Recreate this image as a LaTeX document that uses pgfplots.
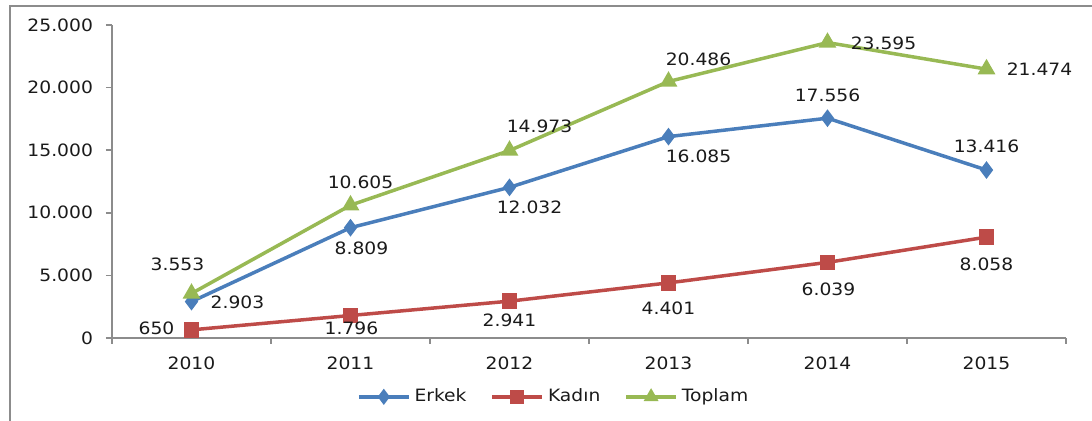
\documentclass[border=0pt]{standalone}
\usepackage{fontspec}
\setmainfont[FakeStretch=1.1]{DejaVu Sans}
\usepackage{pgfplots}
\pgfplotsset{compat=1.18}
\usepackage{pgfplotstable}
\definecolor{erk}{HTML}{4A7EBB}
\definecolor{kad}{HTML}{BE4B48}
\definecolor{top}{HTML}{98B954}
\definecolor{axg}{HTML}{8C8C8C}
\definecolor{txt}{HTML}{1A1A1A}

\pgfplotstableread{
x y dx dy
0 2903 23 -0.5
1 8809 5.5 -10.5
2 12032 10 -10
3 16085 15 -10
4 17556 0 11.5
5 13416 0 12
}\erkek
\pgfplotstableread{
x y dx dy
0 650 -17.5 1
1 1796 0.5 -6.5
2 2941 0 -9.5
3 4401 0 -12.5
4 6039 0.5 -13.5
5 8058 0 -13.5
}\kadin
\pgfplotstableread{
x y dx dy
0 3553 -7 14.5
1 10605 5 11.5
2 14973 15 12
3 20486 15 11
4 23595 28 -0.5
5 21474 26.5 0
}\toplam

\begin{document}
\begin{tikzpicture}[font=\fontsize{8.5}{10}\selectfont]
\useasboundingbox (-56pt,-41.5pt) rectangle (490pt,169pt);
\draw[axg, line width=0.8pt] (-51pt,-41.5pt) -- (-51pt,166pt) -- (490pt,166pt);
\begin{axis}[
  at={(0pt,0pt)}, anchor=south west,
  scale only axis, width=477pt, height=156.5pt,
  xmin=-0.5, xmax=5.5, ymin=0, ymax=25000,
  ytick={0,5000,...,25000},
  xtick={0,...,5}, xticklabels={2010,2011,2012,2013,2014,2015},
  minor xtick={-0.5,0.5,...,5.5},
  major x tick style={draw=none},
  axis x line*=bottom, axis y line*=left,
  axis line style={draw=axg, line width=0.8pt},
  tick style={axg, line width=0.8pt},
  tick align=outside, major tick length=3pt, minor tick length=3pt,
  scaled y ticks=false,
  /pgf/number format/.cd, fixed, precision=0, 1000 sep={.}, assume math mode=true,
  /pgfplots/.cd,
  ticklabel style={text=txt},
  yticklabel style={xshift=-3pt},
  xticklabel style={yshift=-3pt},
  legend style={at={(axis description cs:0.464,-0.188)}, anchor=center, draw=none, fill=none,
    legend columns=3, /tikz/every even column/.append style={column sep=10pt}, text=txt,
    nodes={inner xsep=2pt}},
  legend image code/.code={\draw[mark repeat=2,mark phase=2, mark size=2.6pt] plot coordinates {(0pt,0pt) (12.5pt,0pt) (25pt,0pt)};},
  every node near coord/.append style={anchor=center, text=txt},
  clip=false,
]
\addplot[erk, line width=1.75pt, mark=diamond*, mark size=3pt, mark options={solid},
  nodes near coords, point meta=y,
  visualization depends on={\thisrow{dx}\as\dx},
  visualization depends on={\thisrow{dy}\as\dy},
  every node near coord/.append style={xshift=\dx pt, yshift=\dy pt}]
  table[x=x,y=y] {\erkek};
\addlegendentry{Erkek}
\addplot[kad, line width=1.75pt, mark=square*, mark size=3pt, mark options={solid},
  nodes near coords, point meta=y,
  visualization depends on={\thisrow{dx}\as\dx},
  visualization depends on={\thisrow{dy}\as\dy},
  every node near coord/.append style={xshift=\dx pt, yshift=\dy pt}]
  table[x=x,y=y] {\kadin};
\addlegendentry{Kadın}
\addplot[top, line width=1.75pt, mark=triangle*, mark size=3.4pt, mark options={solid},
  nodes near coords, point meta=y,
  visualization depends on={\thisrow{dx}\as\dx},
  visualization depends on={\thisrow{dy}\as\dy},
  every node near coord/.append style={xshift=\dx pt, yshift=\dy pt}]
  table[x=x,y=y] {\toplam};
\addlegendentry{Toplam}
\end{axis}
\end{tikzpicture}
\end{document}
